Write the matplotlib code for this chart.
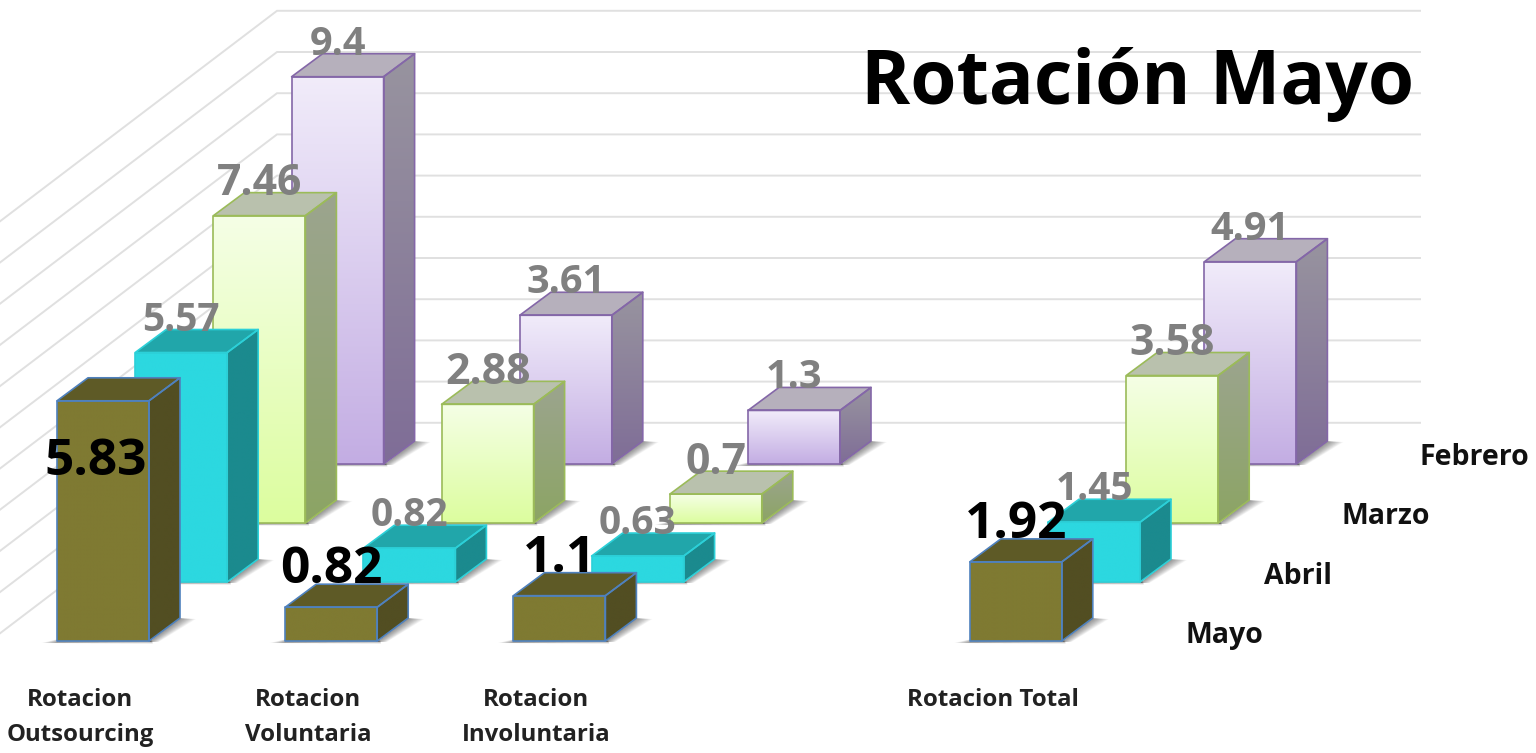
import numpy as np
import matplotlib
matplotlib.use("Agg")
import matplotlib.pyplot as plt
from matplotlib.colors import LinearSegmentedColormap
from matplotlib.patches import Polygon

categories = ["Rotacion\nOutsourcing", "Rotacion\nVoluntaria", "Rotacion\nInvoluntaria", "", "Rotacion Total"]
series_names = ["Febrero", "Marzo", "Abril", "Mayo"]
febrero = [9.4, 3.61, 1.3, None, 4.91]
marzo = [7.46, 2.88, 0.7, None, 3.58]
abril = [5.57, 0.82, 0.63, None, 1.45]
mayo = [5.83, 0.82, 1.1, None, 1.92]
series_values = [febrero, marzo, abril, mayo]
title_text = "Rotación Mayo"

plt.rcParams["font.family"] = ["Open Sans", "DejaVu Sans"]

# layout of the 3D projection, in pixels of the 1536x753 picture
X0, CAT_STEP, BAR_W = 57.0, 228.2, 92.0
BASE_FRONT, DEPTH_DX, DEPTH_DY = 641.0, 78.0, 59.0
SIDE_DX, SIDE_DY = 31.0, 23.0
UNIT = 41.2
styles = [
    dict(front=("#F1ECFA", "#C3ADE3"), side=("#98949F", "#7F6D97"), top="#B6B0BC", edge="#8467A8", lab="#808080", fs=28.5),
    dict(front=("#F5FFE6", "#DCFD9E"), side=("#9CA48F", "#8CA564"), top="#B9C1AD", edge="#9BBB59", lab="#808080", fs=30.8),
    dict(front=("#2CD8E0", "#2CD8E0"), side=("#1B8A8E", "#1B8A8E"), top="#21A6AA", edge="#2CD0D8", lab="#808080", fs=28),
    dict(front=("#7F7A32", "#7F7A32"), side=("#524E22", "#524E22"), top="#5E5A26", edge="#4F81BD", lab="#000000", fs=37),
]

fig = plt.figure(figsize=(15.36, 7.53), dpi=100)
ax = fig.add_axes([0, 0, 1, 1])
ax.set_axis_off()


def val_y(base, v):
    return base - v * UNIT


# wall and side-wall gridlines
back_floor = BASE_FRONT - 3 * DEPTH_DY
corner_x = 277.0
for level in range(1, 12):
    y = val_y(back_floor, level)
    ax.plot([0, corner_x, 1420], [y + corner_x * 0.76, y, y], color="#E0E0E0", lw=1.4,
            solid_joinstyle="miter", zorder=1)


def cmap2(c):
    return LinearSegmentedColormap.from_list("g", list(c))


def grad_poly(pts, colors, y0, y1, xr, z):
    poly = Polygon(pts, closed=True, transform=ax.transData, fc="none", ec="none")
    ax.add_patch(poly)
    im = ax.imshow(np.linspace(0, 1, 256).reshape(-1, 1), cmap=cmap2(colors), aspect="auto",
                   extent=(xr[0], xr[1], y1, y0), zorder=z, interpolation="bilinear")
    im.set_clip_path(poly)


def shadow(x, base, z):
    r = x + BAR_W
    for grow in np.linspace(1, 16, 12):
        ax.add_patch(Polygon([(r, base + 1), (r + SIDE_DX, base - SIDE_DY),
                              (r + SIDE_DX + grow, base - SIDE_DY + 1), (r + grow * 0.6, base + 1)],
                             fc="#000000", alpha=0.04, ec="none", zorder=z))
        ax.add_patch(Polygon([(x - grow, base + 2), (x + 6, base - 3), (r, base - 3), (r + 4, base + grow * 0.18)],
                             fc="#000000", alpha=0.035, ec="none", zorder=z))


label_shift = {(3, 0): (-7, 55)}
for s, vals in enumerate(series_values):
    st = styles[s]
    base = BASE_FRONT - (3 - s) * DEPTH_DY
    x_s = X0 + (3 - s) * 78.2
    for c, v in enumerate(vals):
        if v is None:
            continue
        x = x_s + c * CAT_STEP
        r = x + BAR_W
        top = val_y(base, v)
        z = 10 + s * 10 + c * 0.5
        shadow(x, base, z - 0.2)
        front = [(x, top), (r, top), (r, base), (x, base)]
        side = [(r, top), (r + SIDE_DX, top - SIDE_DY), (r + SIDE_DX, base - SIDE_DY), (r, base)]
        roof = [(x, top), (x + SIDE_DX, top - SIDE_DY), (r + SIDE_DX, top - SIDE_DY), (r, top)]
        grad_poly(front, st["front"], top, base, (x, r), z)
        grad_poly(side, st["side"], top - SIDE_DY, base, (r, r + SIDE_DX), z)
        ax.add_patch(Polygon(roof, fc=st["top"], ec="none", zorder=z))
        for pts in (front, side, roof):
            ax.add_patch(Polygon(pts, fc="none", ec=st["edge"], lw=1.2, joinstyle="round", zorder=z + 0.1))
        dx, dy = label_shift.get((s, c), (0, -43 if s == 3 else -37))
        ax.text(x + BAR_W / 2 + dx, top + dy, str(v), color=st["lab"], fontsize=st["fs"], fontweight="bold",
                ha="center", va="center_baseline", zorder=100 + s)

# category labels
for c, name in enumerate(categories):
    if not name:
        continue
    cx = X0 + c * CAT_STEP + 23
    for i, line in enumerate(name.split("\n")):
        ax.text(cx, 697 + i * 35, line, fontsize=17.3, fontweight="bold", color="#222222",
                ha="center", va="center_baseline", zorder=120)

# depth-axis labels
for s, name in enumerate(series_names):
    ax.text(1420 - s * 78, 454 + s * 59.5, name, fontsize=20.5, fontweight="bold", color="#111111",
            ha="left", va="center_baseline", zorder=120)

ax.text(1414, 75, title_text, fontsize=53.7, fontweight="bold", color="#000000", ha="right",
        va="center_baseline", zorder=130)

ax.set_xlim(0, 1536)
ax.set_ylim(753, 0)
fig.savefig("out.png", dpi=100, facecolor="white")
